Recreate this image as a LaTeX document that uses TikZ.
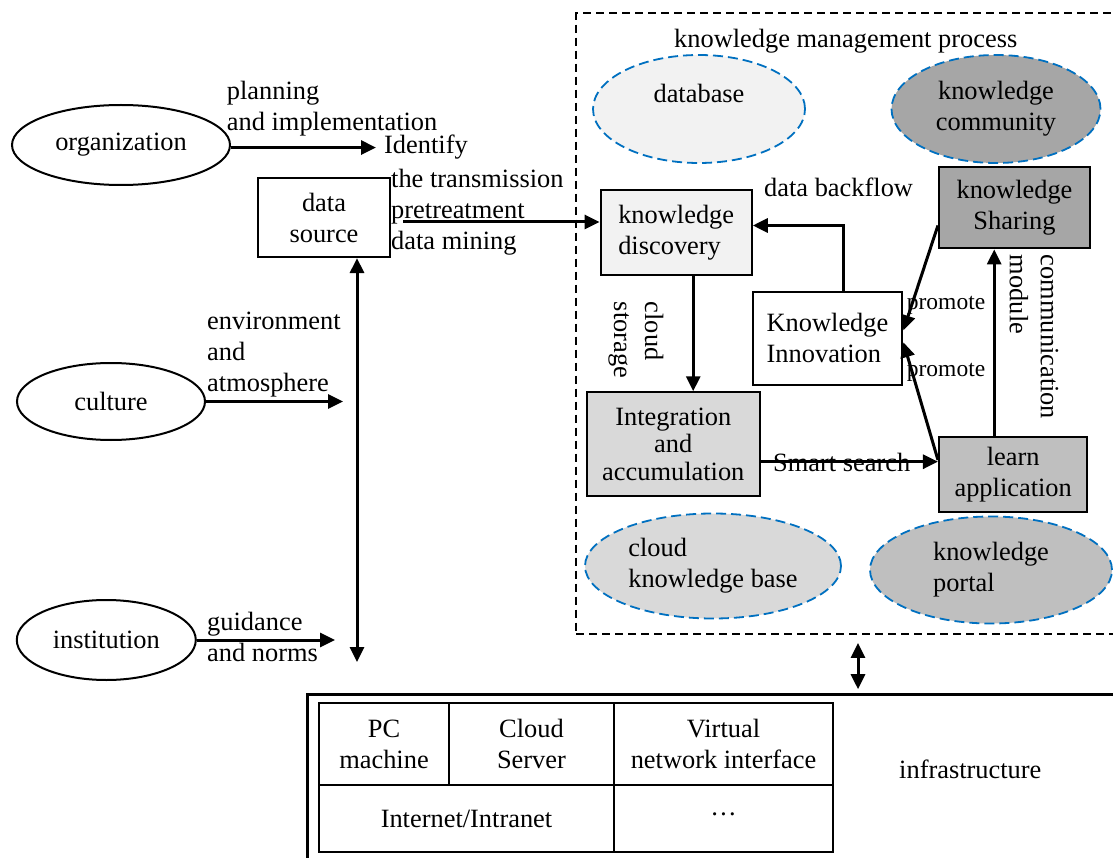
\documentclass[tikz,border=0pt]{standalone}
\usepackage{fontspec}
\setmainfont{Liberation Serif}
\usetikzlibrary{arrows.meta,shapes.geometric}
\definecolor{kmblue}{RGB}{0,112,192}
\definecolor{greyA}{HTML}{F2F2F2}
\definecolor{greyB}{HTML}{D9D9D9}
\definecolor{greyC}{HTML}{BFBFBF}
\definecolor{greyD}{HTML}{A6A6A6}
\begin{document}
\begin{tikzpicture}[x=1pt,y=-1pt,
  every node/.style={font=\fontsize{26.4}{31}\selectfont},
  box/.style={draw, line width=2.2pt, rectangle, inner sep=0pt, align=center},
  oval/.style={draw, line width=2pt, ellipse, inner sep=0pt},
  kmoval/.style={draw=kmblue, line width=1.8pt, dash pattern=on 10pt off 5pt, ellipse, inner sep=0pt},
  procframe/.style={draw, line width=1.8pt, dash pattern=on 8pt off 5pt, inner sep=0pt},
  cell/.style={draw, line width=2pt, inner sep=0pt, align=center},
  lbl/.style={inner sep=0pt, align=left},
  txt/.style={anchor=base west, inner sep=0pt},
  arr/.style={line width=3pt, -{Triangle[length=15pt,width=14pt]}},
  arrtwo/.style={line width=3pt, {Triangle[length=15pt,width=14pt]}-{Triangle[length=15pt,width=14pt]}},
]
\useasboundingbox (0,0) rectangle (1113,858);

% knowledge management process frame
\node[procframe, minimum width=542pt, minimum height=620.7pt] (kmp) at (847,323.7) {};
\node[txt] (title) at (674,48) {knowledge management process};

% left side: influencing factors
\node[oval, minimum width=218pt, minimum height=80pt] (org) at (121,145) {organization};
\node[oval, minimum width=188pt, minimum height=77pt] (cul) at (111,401.5) {culture};
\node[oval, minimum width=179pt, minimum height=80pt] (inst) at (106.3,640) {institution};
\node[box, minimum width=132pt, minimum height=79pt] (ds) at (324,217.5) {data\\source};

\node[lbl, anchor=north west] (pilbl) at (226.7,81.3) {planning\\and implementation};
\node[txt] (idf) at (384,154) {Identify};
\node[lbl, anchor=north west] (steps) at (391,168.7) {the transmission\\pretreatment\\data mining};
\node[lbl, anchor=north west] (envlbl) at (207,312) {environment\\and\\atmosphere};
\node[lbl, anchor=north west] (gnlbl) at (207,612) {guidance\\and norms};

% knowledge stores
\node[kmoval, fill=greyA, minimum width=212pt, minimum height=108pt] (db) at (699,109) {\raisebox{6pt}[0pt][0pt]{database}};
\node[kmoval, fill=greyD, minimum width=209pt, minimum height=108pt, align=center] (comm) at (996,109) {knowledge\\community};
\node[kmoval, fill=greyB, minimum width=256pt, minimum height=105pt, align=left] (ckb) at (713,566) {cloud\\knowledge base};
\node[kmoval, fill=greyC, minimum width=242pt, minimum height=107pt, align=left] (portal) at (991,570) {knowledge\\portal};

% process steps
\node[box, fill=greyA, minimum width=151pt, minimum height=85pt, align=left] (disc) at (676.2,232.5) {knowledge\\discovery};
\node[box, fill=greyD, minimum width=151pt, minimum height=81.6pt] (share) at (1014.5,207.5) {knowledge\\Sharing};
\node[box, fill=white, minimum width=149.6pt, minimum height=93.3pt, align=left] (innov) at (827.5,338.3) {Knowledge\\Innovation};
\node[box, fill=greyB, minimum width=173.3pt, minimum height=103.7pt, font=\fontsize{26.4}{27.5}\selectfont] (integ) at (673.3,444.2) {Integration\\and\\accumulation};
\node[box, fill=greyC, minimum width=148.3pt, minimum height=75.6pt] (learn) at (1013.2,474.5) {learn\\application};

% infrastructure layer
\node[draw, line width=2.3pt, inner sep=0pt, minimum width=812.7pt, minimum height=175.7pt] (infra) at (713.7,782.2) {};
\node[cell, minimum width=130pt, minimum height=81.7pt] (pc) at (384,744.2) {PC\\machine};
\node[cell, minimum width=165pt, minimum height=81.7pt] (cs) at (531.5,744.2) {Cloud\\Server};
\node[cell, minimum width=219pt, minimum height=81.7pt] (vni) at (723.5,744.2) {Virtual\\network interface};
\node[cell, minimum width=295pt, minimum height=67.3pt] (inet) at (466.5,818.7) {Internet/Intranet};
\node[cell, minimum width=219pt, minimum height=67.3pt] (more) at (723.5,818.7) {\raisebox{9pt}{…}};
\node[txt] (inflbl) at (899,778) {infrastructure};

% connectors on the left
\draw[arr] (org.east |- idf.west) -- ([xshift=-8pt]idf.west);
\coordinate (dsout) at (403,222);
\draw[arr] (dsout) -- (dsout -| disc.west);
\coordinate (vbot) at (357,662);
\draw[arrtwo] (vbot) -- (vbot |- ds.south);
\coordinate (cend) at (343,401.5);
\draw[arr] (cul.east) -- (cend);
\coordinate (iend) at (335,640);
\draw[arr] (inst.east) -- (iend);

% connectors inside the process
\coordinate (csa) at ([xshift=17pt]disc.south);
\draw[arr] (csa) -- (csa |- integ.north);
\coordinate (bfa) at ([xshift=16pt]innov.north);
\coordinate (bfb) at ([yshift=7pt]disc.east);
\draw[arr] (bfa) |- (bfb);
\draw[arr] ([yshift=-18pt]share.west) -- ([yshift=8pt]innov.east);
\draw[arr] ([yshift=14.5pt]learn.west) -- ([yshift=-4pt]innov.east);
\coordinate (cma) at ([xshift=-19pt]learn.north);
\draw[arr] (cma) -- (cma |- share.south);
\coordinate (ssa) at ([yshift=-17.5pt]integ.east);
\draw[arr] (ssa) -- (ssa -| learn.west);
\coordinate (ifx) at (858,0);
\draw[arrtwo, shorten <=8pt, shorten >=4pt] (kmp.south -| ifx) -- (infra.north -| ifx);

% connector labels
\node[txt] (bflbl) at (764,197) {data backflow};
\node[txt, font=\fontsize{23.5}{28}\selectfont] (pr1) at (906.7,310) {promote};
\node[txt, font=\fontsize{23.5}{28}\selectfont] (pr2) at (906.7,376.7) {promote};
\node[txt] (sslbl) at (773,471.7) {Smart search};
\node[lbl, rotate=-90] (cslbl) at (636,340) {cloud\\storage};
\node[lbl, rotate=-90] (cmlbl) at (1034,337) {communication\\module};
\end{tikzpicture}
\end{document}
